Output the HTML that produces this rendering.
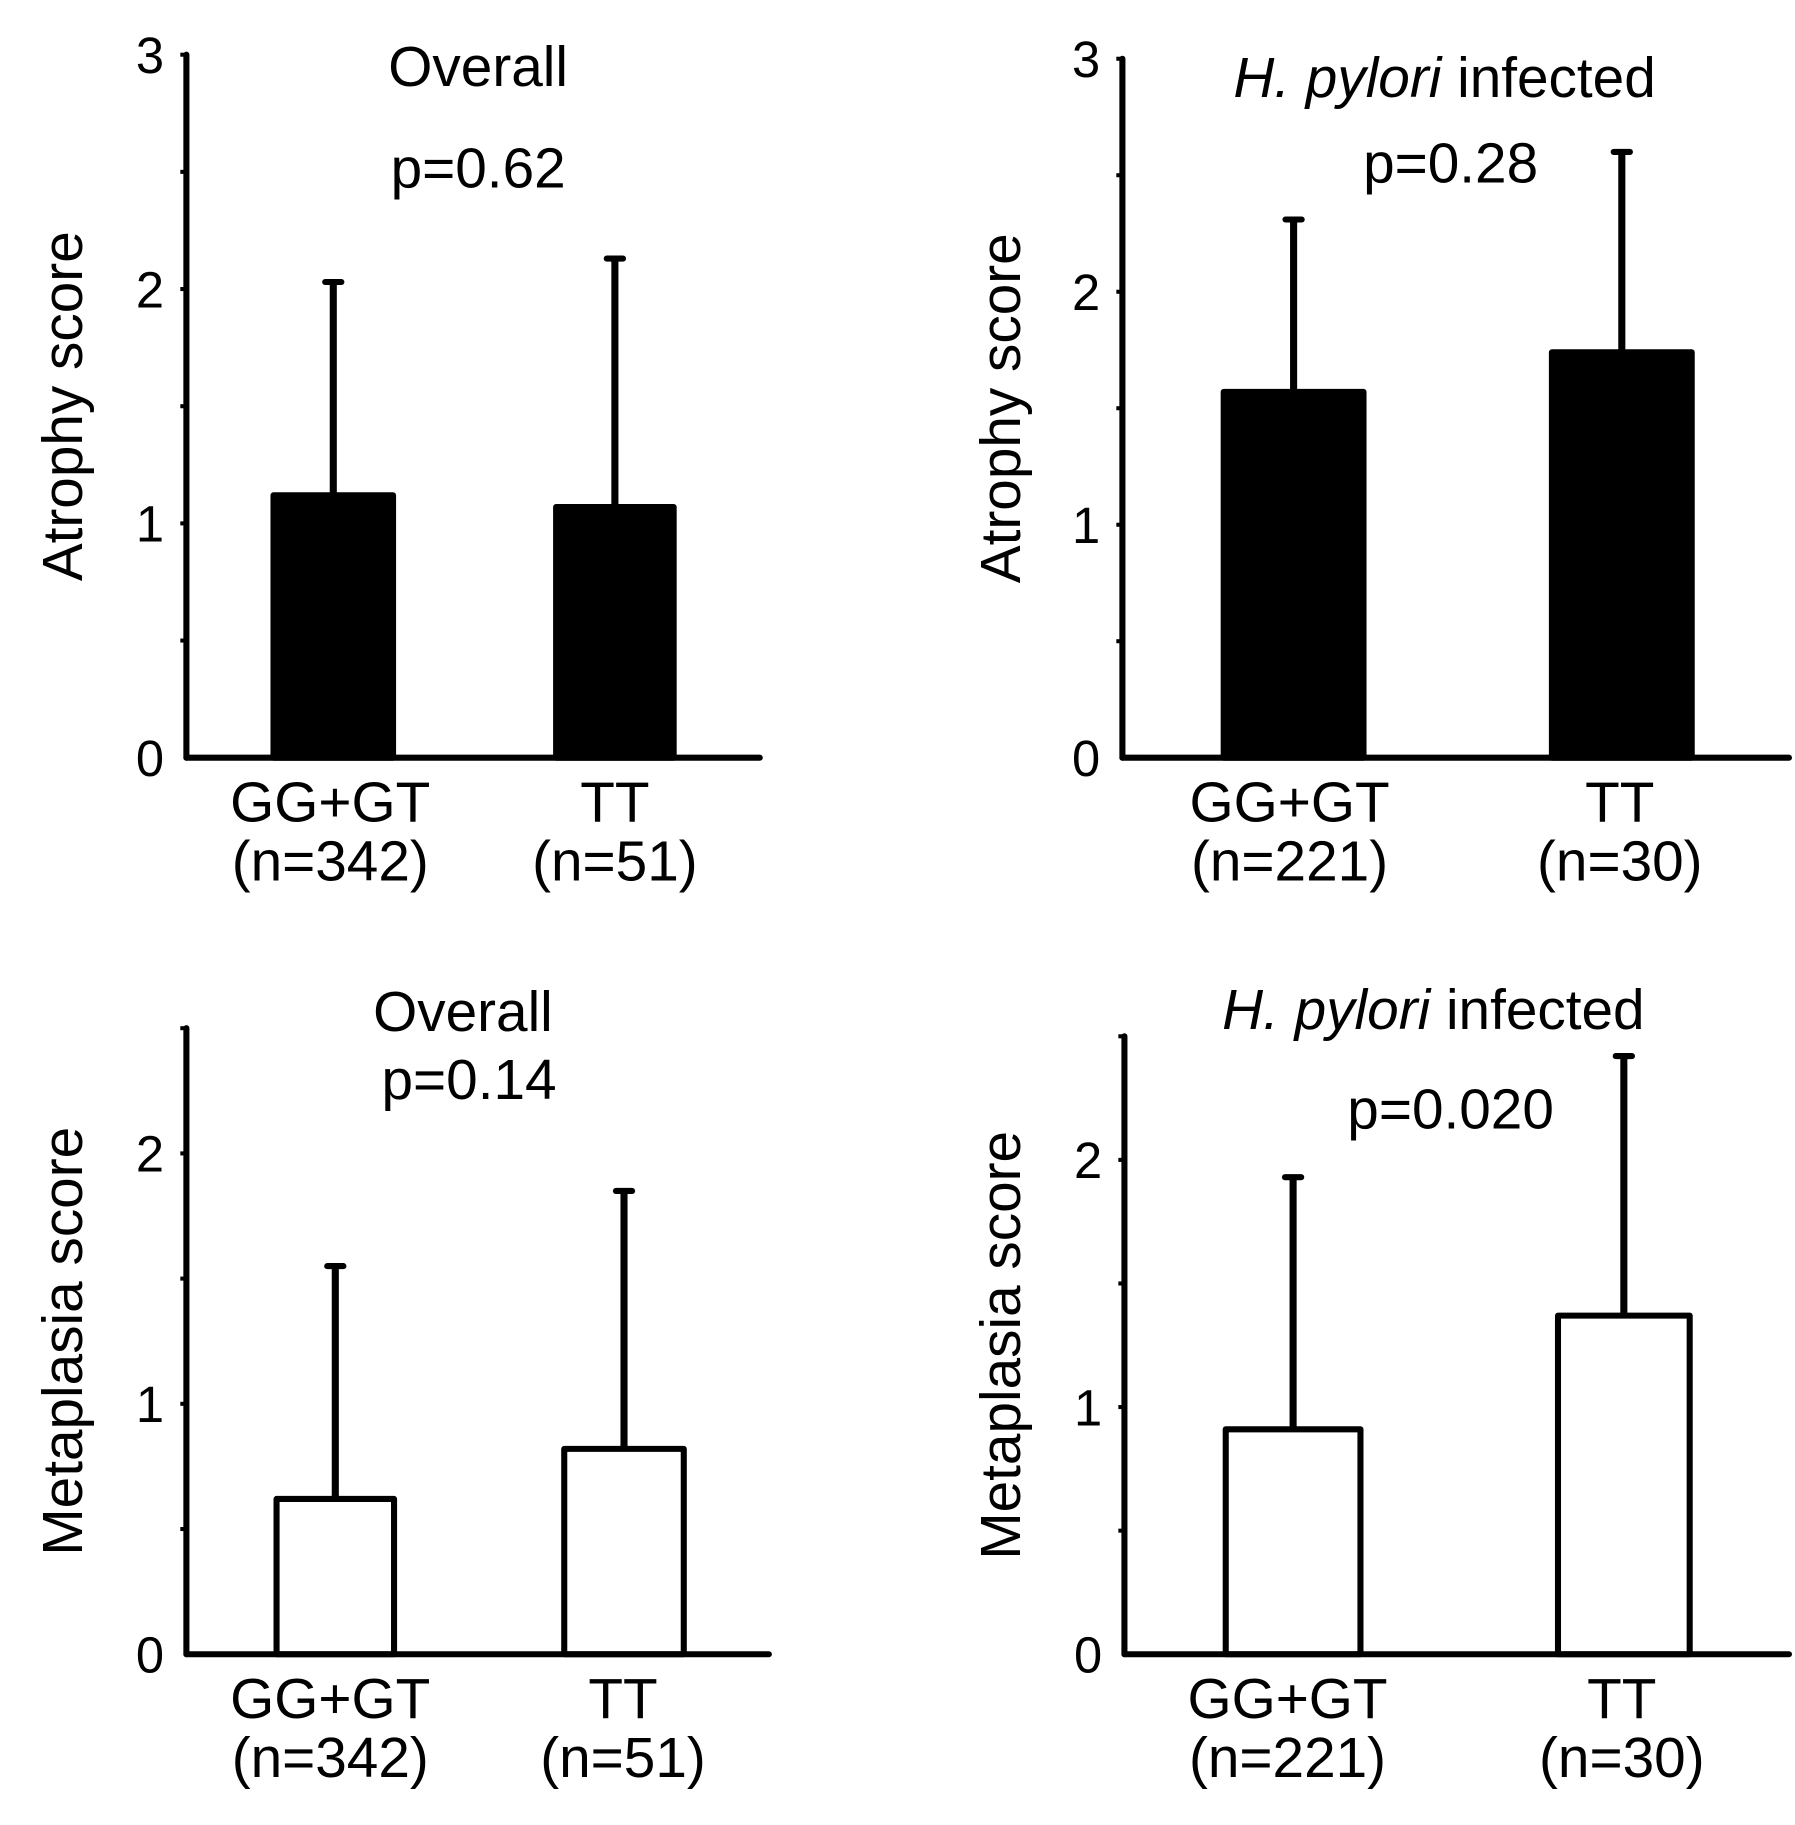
<!DOCTYPE html>
<html><head><meta charset="utf-8">
<style>
html,body{margin:0;padding:0;background:#fff;}
svg{display:block;}
text{font-family:"Liberation Sans",Arial,sans-serif;fill:#000;}
</style></head>
<body>
<svg id="chart" width="1795" height="1825" viewBox="0 0 1795 1825" xmlns="http://www.w3.org/2000/svg"><g id="root" transform="scale(1.013)"></g></svg>
<script>
// Data arrays
const categories = ["GG+GT", "TT"];
const nOverall = ["(n=342)", "(n=51)"];
const nPylori = ["(n=221)", "(n=30)"];
const atrophyOverallMean = [1.12, 1.07];
const atrophyOverallErr = [2.03, 2.13];
const atrophyPyloriMean = [1.57, 1.74];
const atrophyPyloriErr = [2.31, 2.60];
const metaOverallMean = [0.62, 0.82];
const metaOverallErr = [1.55, 1.85];
const metaPyloriMean = [0.91, 1.37];
const metaPyloriErr = [1.93, 2.42];
const atrophyTicks = [0, 1, 2, 3];
const metaTicks = [0, 1, 2];
const pValues = ["p=0.62", "p=0.28", "p=0.14", "p=0.020"];

const NS = "http://www.w3.org/2000/svg";
const svg = document.getElementById("root");
function mk(tag, attrs, parent) {
  const e = document.createElementNS(NS, tag);
  for (const k in attrs) e.setAttribute(k, attrs[k]);
  (parent || svg).appendChild(e);
  return e;
}
const FS = 56;

const panels = [
  {name:"atrophy-overall", ax:184, y0:748, top:54, ymax:3, right:750, bars:[[270,388],[549,665]], fill:"#000",
   mean:atrophyOverallMean, err:atrophyOverallErr, ticks:atrophyTicks, ns:nOverall, ytitle:"Atrophy score", ytx:63,
   title:"Overall", italic:false, tx:472, ty:85, p:pValues[0], px:472, py:185, lx:[326,607]},
  {name:"atrophy-pylori", ax:1108, y0:748, top:58, ymax:3, right:1766, bars:[[1208,1346],[1532,1670]], fill:"#000",
   mean:atrophyPyloriMean, err:atrophyPyloriErr, ticks:atrophyTicks, ns:nPylori, ytitle:"Atrophy score", ytx:989,
   title:"infected", italic:true, tx:1426, ty:96, p:pValues[1], px:1432, py:180, lx:[1273,1599]},
  {name:"metaplasia-overall", ax:184, y0:1633, top:1015, ymax:2.5, right:759, bars:[[273,389],[557,675]], fill:"#fff",
   mean:metaOverallMean, err:metaOverallErr, ticks:metaTicks, ns:nOverall, ytitle:"Metaplasia score", ytx:63,
   title:"Overall", italic:false, tx:457, ty:1018, p:pValues[2], px:463, py:1085, lx:[326,615]},
  {name:"metaplasia-pylori", ax:1110, y0:1633, top:1023, ymax:2.5, right:1766, bars:[[1210,1343],[1538,1668]], fill:"#fff",
   mean:metaPyloriMean, err:metaPyloriErr, ticks:metaTicks, ns:nPylori, ytitle:"Metaplasia score", ytx:989,
   title:"infected", italic:true, tx:1415, ty:1016, p:pValues[3], px:1432, py:1114, lx:[1271,1601]}
];

panels.forEach(P => {
  const g = mk("g", {});
  
  
  const ys = v => P.y0 - (P.y0 - P.top) * v / P.ymax;

  for (let v = 0.5; v <= P.ymax + 0.001; v += 0.5) {
    const t = mk("line", {x1:P.ax-6, x2:P.ax, y1:ys(v), y2:ys(v), stroke:"#000", "stroke-width":4}, g);
    
    
  }
  P.mean.forEach((m, i) => {
    const [x1, x2] = P.bars[i];
    const cx = (x1 + x2) / 2;
    const eb = mk("line", {x1:cx, x2:cx, y1:ys(m), y2:ys(P.err[i]), stroke:"#000", "stroke-width":7}, g);
    
    
    const cap = mk("line", {x1:cx-8, x2:cx+8, y1:ys(P.err[i]), y2:ys(P.err[i]), stroke:"#000", "stroke-width":6, "stroke-linecap":"round"}, g);
    
    
    const r = mk("rect", {x:x1, y:ys(m), width:x2-x1, height:P.y0-ys(m), fill:P.fill, stroke:"#000", "stroke-width":6, "stroke-linejoin":"round"}, g);
    
    
    const l1 = mk("text", {x:P.lx[i], y:P.y0+63, "font-size":FS, "text-anchor":"middle"}, g);
    l1.textContent = categories[i];
    
    
    const l2 = mk("text", {x:P.lx[i], y:P.y0+121, "font-size":FS, "text-anchor":"middle"}, g);
    l2.textContent = P.ns[i];
    
    
  });
  const ya = mk("line", {x1:P.ax, x2:P.ax, y1:P.top, y2:P.y0, stroke:"#000", "stroke-width":6, "stroke-linecap":"round"}, g);
  
  
  const xa = mk("line", {x1:P.ax, x2:P.right, y1:P.y0, y2:P.y0, stroke:"#000", "stroke-width":6, "stroke-linecap":"round"}, g);
  
  
  P.ticks.forEach(v => {
    const t = mk("text", {x:P.ax-22, y:ys(v)+18, "font-size":50, "text-anchor":"end"}, g);
    t.textContent = v;
    
    
  });
  const yt = mk("text", {x:0, y:0, "font-size":FS, "text-anchor":"middle", transform:`translate(${P.ytx + 18},${(P.top+P.y0)/2}) rotate(-90)`}, g);
  yt.textContent = P.ytitle;
  
  
  const tt = mk("text", {x:P.tx, y:P.ty, "font-size":FS, "text-anchor":"middle"}, g);
  if (P.italic) {
    const s = mk("tspan", {"font-style":"italic"}, tt);
    s.textContent = "H. pylori";
    const s2 = mk("tspan", {}, tt);
    s2.textContent = " infected";
  } else {
    tt.textContent = P.title;
  }
  
  
  const pt = mk("text", {x:P.px, y:P.py, "font-size":FS, "text-anchor":"middle"}, g);
  pt.textContent = P.p;
  
  
});
</script>
</body></html>
